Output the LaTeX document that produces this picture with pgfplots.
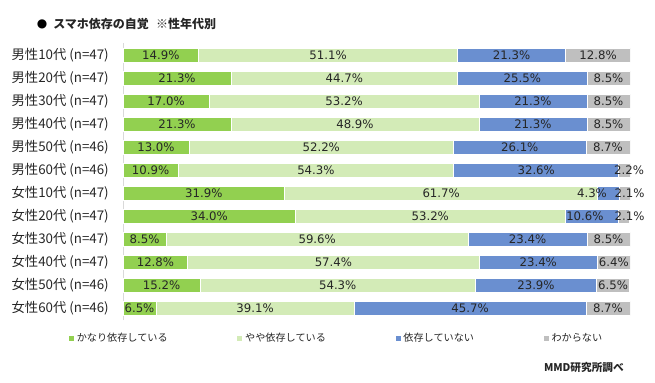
\documentclass[border=0pt]{standalone}
\usepackage{pgfplots}
\pgfplotsset{compat=1.18}
\usepackage{pgfplotstable}
\usepackage{fontspec}
\setmainfont{Noto Sans CJK JP}
\newfontfamily\dejavu{DejaVu Sans}
\definecolor{cA}{HTML}{92D050}
\definecolor{cB}{HTML}{D3EBB7}
\definecolor{cC}{HTML}{6A8FD0}
\definecolor{cD}{HTML}{BFBFBF}
\definecolor{txt}{HTML}{262626}
\pgfplotstableread{
y a b c d
11 14.9 51.1 21.3 12.8
10 21.3 44.7 25.5 8.5
9 17.0 53.2 21.3 8.5
8 21.3 48.9 21.3 8.5
7 13.0 52.2 26.1 8.7
6 10.9 54.3 32.6 2.2
5 31.9 61.7 4.3 2.1
4 34.0 53.2 10.6 2.1
3 8.5 59.6 23.4 8.5
2 12.8 57.4 23.4 6.4
1 15.2 54.3 23.9 6.5
0 6.5 39.1 45.7 8.7
}\data
\begin{document}
\begin{tikzpicture}
\useasboundingbox (0,0) rectangle (491.25pt,286.5pt);
\pgfplotsset{base/.style={at={(92.25pt,46.5pt)}, anchor=south west, scale only axis,
  width=380.25pt, height=207.375pt, xmin=0, xmax=100, ymin=-0.5, ymax=11.5}}
\begin{axis}[base, xbar stacked, bar width=10.5pt,
  axis line style={draw=none}, xtick=\empty,
  ytick={0,...,11},
  yticklabels={{女性60代 (n=46)},{女性50代 (n=46)},{女性40代 (n=47)},{女性30代 (n=47)},{女性20代 (n=47)},{女性10代 (n=47)},{男性60代 (n=46)},{男性50代 (n=46)},{男性40代 (n=47)},{男性30代 (n=47)},{男性20代 (n=47)},{男性10代 (n=47)}},
  major tick length=0pt,
  yticklabel style={font=\fontsize{10}{12}\selectfont, text=txt, inner sep=0pt, xshift=-10.5pt},
  legend columns=4,
  legend image code/.code={\fill[#1] (0pt,-2.25pt) rectangle (4.5pt,2.25pt);},
  legend style={draw=none, fill=none, inner sep=0pt, at={(-0.109,-0.065)}, anchor=west,
    font=\fontsize{7.6}{9}\selectfont, text=txt,
    nodes={inner sep=1.5pt},
    /tikz/every even column/.append style={column sep=50pt}},
  legend cell align=left,
]
\addplot[fill=cA, draw=white, line width=0.6pt] table[x=a,y=y]{\data};
\addplot[fill=cB, draw=white, line width=0.6pt] table[x=b,y=y]{\data};
\addplot[fill=cC, draw=white, line width=0.6pt] table[x=c,y=y]{\data};
\addplot[fill=cD, draw=white, line width=0.6pt] table[x=d,y=y]{\data};
\legend{かなり依存している,やや依存している,依存していない,わからない}
\draw[color=black!15, line width=0.75pt] (axis cs:0,-0.5) -- (axis cs:0,11.5);
\end{axis}
\begin{axis}[base, hide axis, clip=false]
\addplot[draw=none, mark=none, nodes near coords={\pgfplotspointmeta\%}, point meta=explicit symbolic,
  every node near coord/.append style={anchor=center, font=\dejavu\fontsize{8.8}{10}\selectfont, text=txt, inner sep=0pt}]
coordinates {
(7.45,11) [14.9] (40.45,11) [51.1] (76.65,11) [21.3] (93.7,11) [12.8]
(10.65,10) [21.3] (43.65,10) [44.7] (78.75,10) [25.5] (95.75,10) [8.5]
(8.5,9) [17.0] (43.6,9) [53.2] (80.85,9) [21.3] (95.75,9) [8.5]
(10.65,8) [21.3] (45.75,8) [48.9] (80.85,8) [21.3] (95.75,8) [8.5]
(6.5,7) [13.0] (39.1,7) [52.2] (78.25,7) [26.1] (95.65,7) [8.7]
(5.45,6) [10.9] (38.05,6) [54.3] (81.5,6) [32.6] (99.8,6) [2.2]
(15.95,5) [31.9] (62.75,5) [61.7] (92.5,5) [4.3] (99.9,5) [2.1]
(17.0,4) [34.0] (60.6,4) [53.2] (91.1,4) [10.6] (99.9,4) [2.1]
(4.25,3) [8.5] (38.3,3) [59.6] (79.8,3) [23.4] (95.75,3) [8.5]
(6.4,2) [12.8] (41.5,2) [57.4] (81.9,2) [23.4] (96.8,2) [6.4]
(7.6,1) [15.2] (42.35,1) [54.3] (81.45,1) [23.9] (96.65,1) [6.5]
(3.25,0) [6.5] (26.05,0) [39.1] (68.45,0) [45.7] (95.65,0) [8.7]
};
\end{axis}
\node[anchor=west, inner sep=0pt, font=\dejavu\fontsize{9}{11}\selectfont] at (27.5pt,268.5pt) {●};
\node[anchor=west, inner sep=0pt, font=\bfseries\fontsize{9}{11}\selectfont, text=txt] at (39.75pt,268.5pt) {スマホ依存の自覚\hspace{0.6em}※性年代別};
\node[anchor=west, inner sep=0pt, font=\bfseries\fontsize{8}{10}\selectfont, text=txt] at (407.8pt,11.25pt) {MMD研究所調べ};
\end{tikzpicture}
\end{document}
